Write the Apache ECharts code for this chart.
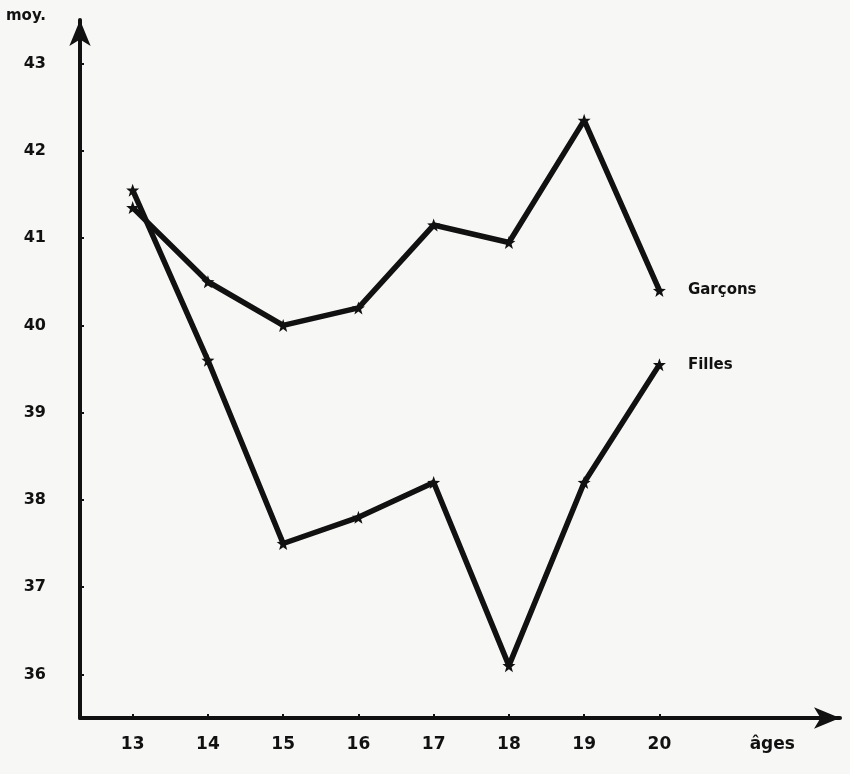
<!DOCTYPE html>
<html>
<head>
<meta charset="utf-8">
<script src="https://cdn.jsdelivr.net/npm/echarts@6/dist/echarts.min.js"></script>
<style>
html,body{margin:0;padding:0;background:#f7f7f5;}
#c{width:850px;height:774px;}
</style>
</head>
<body>
<div id="c"></div>
<script>
const ages = [13, 14, 15, 16, 17, 18, 19, 20];
const garcons = [41.35, 40.5, 40.0, 40.2, 41.15, 40.95, 42.35, 40.4];
const filles = [41.55, 39.6, 37.5, 37.8, 38.2, 36.1, 38.2, 39.55];
const yTicks = [36, 37, 38, 39, 40, 41, 42, 43];
const xTicks = [13, 14, 15, 16, 17, 18, 19, 20];
const xNameAt = 21.5;

const star = 'path://M0,-10 L2.4,-3.3 L9.5,-3.1 L3.9,1.3 L5.9,8.1 L0,4.1 L-5.9,8.1 L-3.9,1.3 L-9.5,-3.1 L-2.4,-3.3 Z';
const font = '"DejaVu Sans", sans-serif';

function mk(name, vals) {
  return {
    type: 'line',
    name: name,
    data: ages.map((a, i) => [a, vals[i]]),
    symbol: star,
    symbolSize: 13,
    showAllSymbol: true,
    lineStyle: { color: '#111', width: 5.5 },
    itemStyle: { color: '#111' },
    label: {
      show: true,
      formatter: p => (p.dataIndex === ages.length - 1 ? name : ''),
      position: 'right',
      distance: 22,
      color: '#111',
      fontFamily: font,
      fontWeight: 'bold',
      fontSize: 15
    }
  };
}

const chart = echarts.init(document.getElementById('c'));
chart.setOption({
  animation: false,
  backgroundColor: '#f7f7f5',
  grid: { left: 80, right: 10, top: 20, bottom: 56 },
  xAxis: {
    type: 'value',
    min: 12.3,
    max: 22.4,
    axisLine: { show: true, symbol: ['none', 'arrow'], symbolSize: [16, 26], lineStyle: { color: '#111', width: 4 } },
    axisTick: { show: true, customValues: xTicks, length: 4, inside: true, lineStyle: { color: '#111', width: 2 } },
    axisLabel: {
      customValues: xTicks.concat([xNameAt]),
      formatter: v => (v === xNameAt ? 'âges' : String(v)),
      color: '#111', fontFamily: font, fontWeight: 'bold', fontSize: 17, margin: 18
    },
    splitLine: { show: false }
  },
  yAxis: {
    type: 'value',
    min: 35.5,
    max: 43.5,
    name: 'moy.',
    nameLocation: 'end',
    nameGap: -4,
    nameTextStyle: { color: '#111', fontFamily: font, fontWeight: 'bold', fontSize: 15, align: 'right', padding: [0, 34, 0, 0] },
    axisLine: { show: true, symbol: ['none', 'arrow'], symbolSize: [16, 26], lineStyle: { color: '#111', width: 4 } },
    axisTick: { show: true, customValues: yTicks, length: 4, inside: true, lineStyle: { color: '#111', width: 2 } },
    axisLabel: { customValues: yTicks, color: '#111', fontFamily: font, fontWeight: 'bold', fontSize: 16, margin: 34 },
    splitLine: { show: false }
  },
  series: [mk('Garçons', garcons), mk('Filles', filles)]
});
</script>
</body>
</html>
